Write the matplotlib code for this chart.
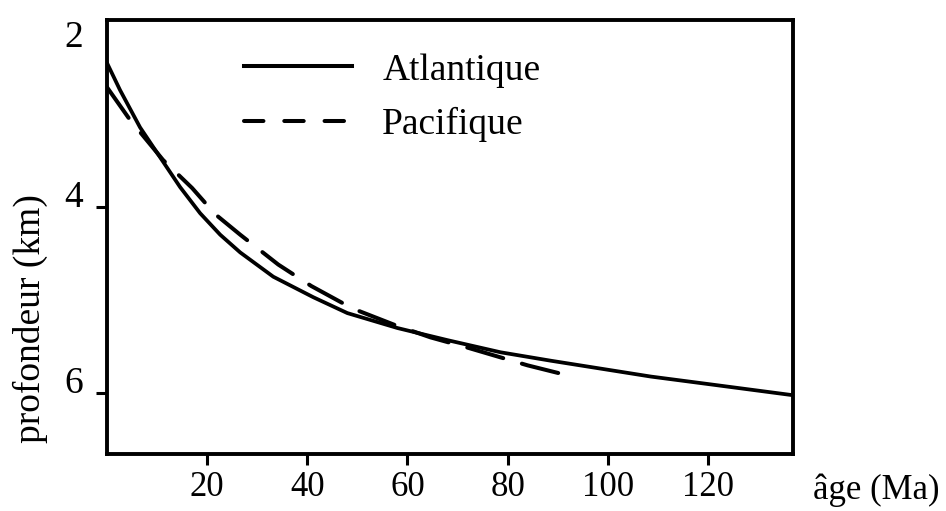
import matplotlib
matplotlib.use('Agg')
import matplotlib.pyplot as plt
from matplotlib.lines import Line2D

# age (Ma) / profondeur (km)
age_atl = [0, 2.6, 6.6, 10.6, 14.6, 18.6, 22.6, 26.6, 33.2, 41.2, 48, 58, 68, 78.6, 88.6, 108.6, 120, 137]
prof_atl = [2.46, 2.75, 3.15, 3.47, 3.79, 4.07, 4.30, 4.49, 4.75, 4.97, 5.14, 5.30, 5.43, 5.56, 5.65, 5.82, 5.90, 6.02]

age_pac = [0, 4.6, 11.2, 17, 21.6, 26.6, 34.2, 40.8, 49, 57.6, 64.6, 72, 84, 92.2]
prof_pac = [2.72, 3.07, 3.50, 3.80, 4.08, 4.30, 4.62, 4.85, 5.09, 5.27, 5.40, 5.51, 5.70, 5.81]

xticks = [20, 40, 60, 80, 100, 120]
yticks = [2, 4, 6]

plt.rcParams['font.family'] = ['Liberation Serif', 'DejaVu Serif']
plt.rcParams['lines.scale_dashes'] = False

fig = plt.figure(figsize=(9.46, 5.11), dpi=100)
ax = fig.add_axes([0.1131, 0.1115, 0.7252, 0.8493])

ax.plot(age_atl, prof_atl, color='black', lw=2.7, solid_capstyle='round', solid_joinstyle='round')
ax.plot(age_pac, prof_pac, color='black', lw=2.9, dashes=(27, 14), dash_capstyle='round')

ax.set_xlim(0, 137)
ax.set_ylim(6.65, 2.0)
ax.set_xticks(xticks)
ax.set_yticks(yticks)
ax.tick_params(axis='both', direction='out', length=8, width=2.2, colors='black')
ax.tick_params(axis='x', pad=4, labelsize=25)
ax.tick_params(axis='y', pad=9, labelsize=27)
yt = ax.yaxis.get_major_ticks()
yt[0].tick1line.set_visible(False)
yt[0].label1.set_va('top')
yt[1].label1.set_va('baseline')
yt[2].label1.set_va('baseline')

for s in ax.spines.values():
    s.set_linewidth(2.8)

ax.set_xlabel('âge (Ma)', fontsize=25)
ax.xaxis.set_label_coords(1.121, -0.083)
ax.xaxis.label.set_va('center')
ax.set_ylabel('profondeur (km)', fontsize=27)
ax.yaxis.set_label_coords(-0.112, 0.311)
ax.yaxis.label.set_va('center')

handles = [Line2D([], [], color='black', lw=2.9),
           Line2D([], [], color='black', lw=2.9, dashes=(14, 15), dash_capstyle='round')]
ax.legend(handles, ['Atlantique', 'Pacifique'], loc='upper left',
          bbox_to_anchor=(0.2, 0.924), frameon=False, fontsize=27,
          handlelength=2.88, handletextpad=0.8, labelspacing=0.51, borderpad=0,
          borderaxespad=0)

fig.savefig('out.png', dpi=100)
